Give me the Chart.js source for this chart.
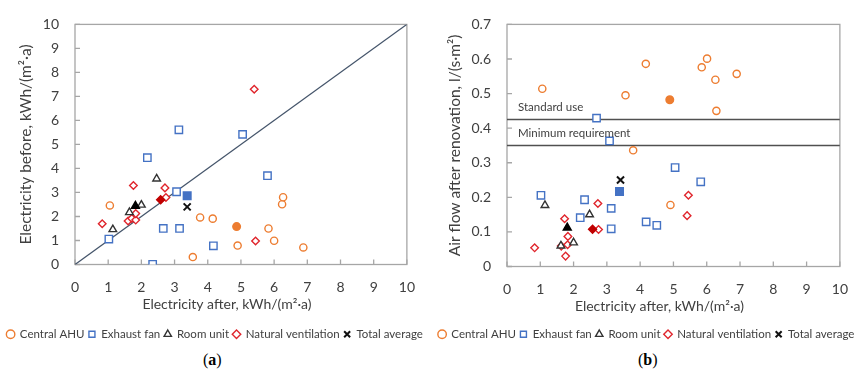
<!DOCTYPE html>
<html>
<head>
<meta charset="utf-8">
<script src="https://cdn.jsdelivr.net/npm/chart.js@4.4.1/dist/chart.umd.min.js"></script>
<style>
  body { margin: 0; background: #fff; width: 863px; height: 372px; position: relative; overflow: hidden; }
  canvas { position: absolute; top: 0; }
  #chartA { left: 0; }
  #chartB { left: 430px; }
  .caption { position: absolute; top: 351px; font-family: "Liberation Serif", serif; font-size: 16px; color: #000; }
</style>
</head>
<body>
<canvas id="chartA" width="430" height="350"></canvas>
<canvas id="chartB" width="433" height="350"></canvas>
<div class="caption" style="left:203px">(<b>a</b>)</div>
<div class="caption" style="left:638px">(<b>b</b>)</div>
<script>
// (a) electricity after vs before renovation, kWh/(m²·a) — [after, before]
const ahuA = [[1.05, 2.46], [3.55, 0.31], [3.77, 1.96], [4.15, 1.91], [4.90, 0.79], [5.83, 1.50], [6.00, 0.99], [6.24, 2.51], [6.27, 2.80], [6.88, 0.71]];
const fanA = [[1.02, 1.06], [2.18, 4.45], [2.34, 0.01], [2.66, 1.50], [3.06, 3.03], [3.13, 5.61], [3.15, 1.50], [4.17, 0.78], [5.05, 5.42], [5.80, 3.70]];
const roomA = [[1.14, 1.46], [1.64, 2.17], [2.00, 2.48], [2.46, 3.57]];
const naturalA = [[0.82, 1.70], [1.60, 1.81], [1.71, 1.92], [1.76, 3.29], [1.83, 1.85], [1.83, 2.12], [2.71, 3.19], [2.74, 2.79], [5.40, 7.30], [5.44, 0.98]];
const meansA = { ahu: [4.87, 1.58], fan: [3.38, 2.86], room: [1.82, 2.44], natural: [2.58, 2.70], total: [3.38, 2.40] };
const diagonalA = [[0, 0], [10, 10]];

// (b) electricity after renovation vs air flow after renovation, l/(s·m²)
const ahuB = [[1.06, 0.514], [3.56, 0.495], [3.79, 0.336], [4.17, 0.586], [4.91, 0.178], [5.85, 0.576], [6.01, 0.601], [6.26, 0.540], [6.29, 0.450], [6.90, 0.557]];
const fanB = [[1.02, 0.206], [2.20, 0.141], [2.33, 0.193], [2.69, 0.429], [3.08, 0.363], [3.13, 0.168], [3.13, 0.109], [4.18, 0.129], [4.50, 0.119], [5.05, 0.286], [5.82, 0.245]];
const roomB = [[1.14, 0.177], [1.62, 0.060], [2.00, 0.069], [2.48, 0.150]];
const naturalB = [[0.83, 0.054], [1.63, 0.059], [1.73, 0.138], [1.76, 0.030], [1.82, 0.063], [1.83, 0.087], [2.73, 0.182], [2.75, 0.107], [5.41, 0.147], [5.45, 0.206]];
const meansB = { ahu: [4.89, 0.482], fan: [3.38, 0.217], room: [1.81, 0.112], natural: [2.57, 0.108], total: [3.41, 0.250] };
const referenceLinesB = [{ label: 'Standard use', value: 0.425 }, { label: 'Minimum requirement', value: 0.35 }];

const ticks0to10 = [0, 1, 2, 3, 4, 5, 6, 7, 8, 9, 10];
const airFlowTicks = [0, 0.1, 0.2, 0.3, 0.4, 0.5, 0.6, 0.7];

const ORANGE = '#ed7d31', BLUE = '#4472c4', DARK = '#333333', RED = '#e0262d', RED_DARK = '#c00000';
const TEXT = '#404040';
const FONT = 'Lato, "Noto Sans", sans-serif';

const toPoints = (pairs) => pairs.map(([x, y]) => ({ x, y }));

function markerSets(ahu, fan, room, natural, means) {
  const base = { type: 'scatter', borderWidth: 1.4, pointHoverRadius: 4, order: 1 };
  const avg = { type: 'scatter', borderWidth: 1.4, order: 0, hideInLegend: true };
  return [
    { ...base, label: 'Central AHU', data: toPoints(ahu), pointStyle: 'circle', pointRadius: 3.6, borderColor: ORANGE, backgroundColor: '#fff' },
    { ...base, label: 'Exhaust fan', data: toPoints(fan), pointStyle: 'rect', pointRadius: 5.2, borderColor: BLUE, backgroundColor: '#fff' },
    { ...base, label: 'Room unit', data: toPoints(room), pointStyle: 'triangle', pointRadius: 4.4, borderColor: DARK, backgroundColor: '#fff' },
    { ...base, label: 'Natural ventilation', data: toPoints(natural), pointStyle: 'rectRot', pointRadius: 3.8, borderColor: RED, backgroundColor: '#fff' },
    { ...base, label: 'Total average', data: toPoints([means.total]), pointStyle: 'crossRot', pointRadius: 5, borderColor: '#111', backgroundColor: '#111', borderWidth: 2, order: 0 },
    { ...avg, label: 'AHU mean', data: toPoints([means.ahu]), pointStyle: 'circle', pointRadius: 3.8, borderColor: ORANGE, backgroundColor: ORANGE },
    { ...avg, label: 'Fan mean', data: toPoints([means.fan]), pointStyle: 'rect', pointRadius: 5.4, borderColor: BLUE, backgroundColor: BLUE },
    { ...avg, label: 'Room mean', data: toPoints([means.room]), pointStyle: 'triangle', pointRadius: 4.6, borderColor: '#000', backgroundColor: '#000' },
    { ...avg, label: 'Natural mean', data: toPoints([means.natural]), pointStyle: 'rectRot', pointRadius: 4, borderColor: RED_DARK, backgroundColor: RED_DARK }
  ];
}

// plot frame, inward tick marks and the x axis title
const frame = {
  id: 'frame',
  beforeDatasetsDraw(chart, args, opts) {
    const { ctx, chartArea: a, scales } = chart;
    ctx.save();
    ctx.strokeStyle = '#a6a6a6';
    ctx.lineWidth = 1.3;
    ctx.strokeRect(a.left, a.top, a.right - a.left, a.bottom - a.top);
    ctx.beginPath();
    scales.x.ticks.forEach(t => {
      const px = scales.x.getPixelForValue(t.value);
      ctx.moveTo(px, a.bottom);
      ctx.lineTo(px, a.bottom - 5);
    });
    scales.y.ticks.forEach(t => {
      const py = scales.y.getPixelForValue(t.value);
      ctx.moveTo(a.left, py);
      ctx.lineTo(a.left + 5, py);
    });
    ctx.stroke();
    ctx.fillStyle = TEXT;
    ctx.font = '14px ' + FONT;
    ctx.textAlign = 'center';
    ctx.textBaseline = 'middle';
    ctx.fillText(opts.xTitle, (a.left + a.right) / 2 + opts.shift, a.bottom + 40);
    ctx.restore();
  }
};

// captions sitting just above the horizontal reference lines
const lineLabels = {
  id: 'lineLabels',
  afterDatasetsDraw(chart, args, opts) {
    if (!opts.lines) return;
    const { ctx, chartArea: a, scales } = chart;
    ctx.save();
    ctx.fillStyle = TEXT;
    ctx.font = '11.5px ' + FONT;
    ctx.textAlign = 'left';
    ctx.textBaseline = 'middle';
    opts.lines.forEach(l => ctx.fillText(l.label, a.left + 11, scales.y.getPixelForValue(l.value) - 12.5));
    ctx.restore();
  }
};

function buildChart(id, datasets, o) {
  return new Chart(document.getElementById(id), {
    data: { datasets },
    plugins: [frame, lineLabels],
    options: {
      responsive: false,
      animation: false,
      layout: { padding: { top: o.top, left: 0, right: 0, bottom: 0 } },
      scales: {
        x: {
          type: 'linear', min: 0, max: 10,
          afterBuildTicks: (s) => { s.ticks = ticks0to10.map(v => ({ value: v })); },
          afterFit: (s) => { s.height = o.xHeight; },
          grid: { display: false, drawTicks: false },
          border: { display: false },
          ticks: { padding: 15, color: TEXT, font: { family: FONT, size: 14 } }
        },
        y: {
          type: 'linear', min: 0, max: o.yMax,
          afterBuildTicks: (s) => { s.ticks = o.yTicks.map(v => ({ value: v })); },
          afterFit: (s) => { s.width = o.yWidth; },
          grid: { display: false, drawTicks: false },
          border: { display: false },
          ticks: { padding: 16, color: TEXT, font: { family: FONT, size: 14 }, callback: o.yFormat },
          title: { display: true, text: o.yTitle, color: TEXT, font: { family: FONT, size: 15.5 }, padding: { top: o.yTitlePad, bottom: 0 } }
        },
        edge: {
          type: 'linear', position: 'right', display: true,
          afterFit: (s) => { s.width = o.rightGap; },
          grid: { display: false, drawTicks: false },
          border: { display: false },
          ticks: { display: false }
        }
      },
      plugins: {
        frame: { xTitle: 'Electricity after, kWh/(m²·a)', shift: -14 },
        lineLabels: { lines: o.lines },
        tooltip: { enabled: false },
        legend: {
          position: 'bottom',
          labels: {
            usePointStyle: true,
            boxWidth: 7,
            boxHeight: 6,
            padding: 4,
            color: TEXT,
            font: { family: FONT, size: 11.5 },
            filter: (item, data) => !data.datasets[item.datasetIndex].hideInLegend,
            sort: (a, b) => a.datasetIndex - b.datasetIndex
          }
        }
      }
    }
  });
}

const diagonal = {
  type: 'line', label: 'y = x', data: toPoints(diagonalA), borderColor: '#44546a', borderWidth: 1.3,
  pointRadius: 0, order: 2, hideInLegend: true
};
buildChart('chartA', [...markerSets(ahuA, fanA, roomA, naturalA, meansA), diagonal], {
  top: 15, xHeight: 60, yWidth: 75, rightGap: 19, yMax: 10, yTicks: ticks0to10,
  yTitle: 'Electricity before, kWh/(m²·a)', yTitlePad: 17, yFormat: (v) => String(v)
});

const refLines = referenceLinesB.map(r => ({
  type: 'line', label: r.label, data: toPoints([[0, r.value], [10, r.value]]), borderColor: '#505050', borderWidth: 1.5,
  pointRadius: 0, order: 2, hideInLegend: true
}));
buildChart('chartB', [...markerSets(ahuB, fanB, roomB, naturalB, meansB), ...refLines], {
  top: 14, xHeight: 58, yWidth: 77, rightGap: 16, yMax: 0.7, yTicks: airFlowTicks,
  yTitle: 'Air flow after renovation, l/(s·m²)', yTitlePad: 16, yFormat: (v) => (v === 0 ? '0' : v.toFixed(1)),
  lines: referenceLinesB
});
</script>
</body>
</html>
